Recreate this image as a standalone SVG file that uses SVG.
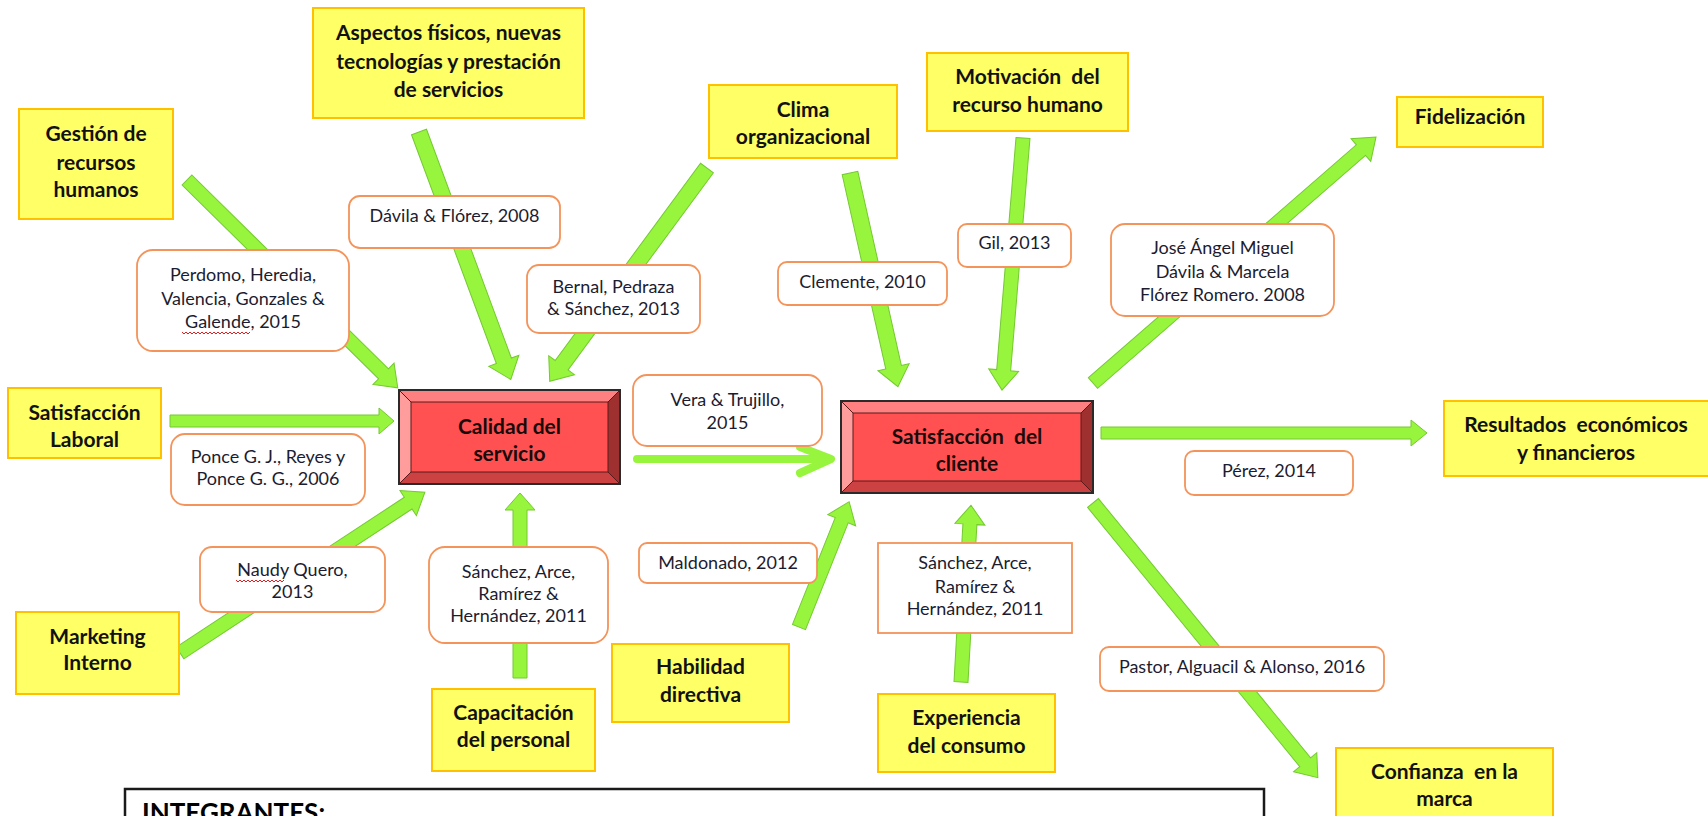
<svg xmlns="http://www.w3.org/2000/svg" width="1708" height="816" viewBox="0 0 1708 816">
<style>
.bg{fill:#ffffff}
.yb{fill:#FFFF66;stroke:#FFC000;stroke-width:2}
.yt{font-family:Lato,"Liberation Sans",sans-serif;font-weight:bold;font-size:21px;fill:#111;text-anchor:middle}
.lb{fill:#ffffff;stroke:#F4935A;stroke-width:1.8}
.lt{font-family:Lato,"Liberation Sans",sans-serif;font-size:18px;fill:#1c1c30;text-anchor:middle}
.ar{fill:#96F53C;stroke:#74C930;stroke-width:1}
.bt{fill:#FF8080}.bl{fill:#FF9C9C}.br{fill:#9E3030}.bb{fill:#CC4141}.bc{fill:#FF5151;stroke:#5a1a1a;stroke-width:1}
.bo{fill:none;stroke:#2a2a2a;stroke-width:2}
.rt{font-family:Lato,"Liberation Sans",sans-serif;font-weight:bold;font-size:21px;fill:#1a0a0a;text-anchor:middle}
.wv{fill:none;stroke:#E02020;stroke-width:1}
</style>
<rect class="bg" x="0" y="0" width="1708" height="816"/>

<g id="connectors">
  <path class="ar" transform="translate(187,180) rotate(44.6)" d="M0,-7 H276 V-15 L296,0 L276,15 V7 H0 Z"/>
  <path class="ar" transform="translate(419,132) rotate(69.65)" d="M0,-8 H244 V-16 L264,0 L244,16 V8 H0 Z"/>
  <path class="ar" transform="translate(707,168) rotate(126.4)" d="M0,-8 H245 V-16 L265,0 L245,16 V8 H0 Z"/>
  <path class="ar" transform="translate(850,173) rotate(77.36)" d="M0,-8 H199 V-16 L219,0 L199,16 V8 H0 Z"/>
  <path class="ar" transform="translate(1023,138) rotate(94.76)" d="M0,-7 H233 V-15 L253,0 L233,15 V7 H0 Z"/>
  <path class="ar" transform="translate(1093,383) rotate(-41)" d="M0,-7 H355 V-15 L375,0 L355,15 V7 H0 Z"/>
  <path class="ar" transform="translate(170,421)" d="M0,-6 H209 V-13 L224,0 L209,13 V6 H0 Z"/>
  <path class="ar" transform="translate(180,653) rotate(-33.3)" d="M0,-7 H273 V-15 L293,0 L273,15 V7 H0 Z"/>
  <path class="ar" transform="translate(520,678) rotate(-90)" d="M0,-7 H168 V-15 L185,0 L168,15 V7 H0 Z"/>
  <path class="ar" transform="translate(799,627) rotate(-68.2)" d="M0,-7 H115 V-15 L135,0 L115,15 V7 H0 Z"/>
  <path class="ar" transform="translate(961,682) rotate(-86.77)" d="M0,-7 H158 V-15 L177,0 L158,15 V7 H0 Z"/>
  <path class="ar" transform="translate(1101,433)" d="M0,-6 H310 V-13 L326,0 L310,13 V6 H0 Z"/>
  <path class="ar" transform="translate(1093,503) rotate(50.7)" d="M0,-7 H335 V-15 L355,0 L335,15 V7 H0 Z"/>
  <path d="M637,459 H829 M800,447 L831,459 L800,473" fill="none" stroke="#96F53C" stroke-width="8" stroke-linecap="round" stroke-linejoin="round"/>
</g>

<g id="node-gestion">
  <rect class="yb" x="19" y="109" width="154" height="110"/>
  <text class="yt" x="96" y="141">Gestión de</text>
  <text class="yt" x="96" y="170">recursos</text>
  <text class="yt" x="96" y="197">humanos</text>
</g>
<g id="node-aspectos">
  <rect class="yb" x="313" y="8" width="271" height="110"/>
  <text class="yt" x="448.5" y="40">Aspectos físicos, nuevas</text>
  <text class="yt" x="448.5" y="69">tecnologías y prestación</text>
  <text class="yt" x="448.5" y="97">de servicios</text>
</g>
<g id="node-clima">
  <rect class="yb" x="709" y="85" width="188" height="73"/>
  <text class="yt" x="803" y="117">Clima</text>
  <text class="yt" x="803" y="144">organizacional</text>
</g>
<g id="node-motivacion">
  <rect class="yb" x="927" y="53" width="201" height="78"/>
  <text class="yt" x="1027.5" y="84" xml:space="preserve">Motivación  del</text>
  <text class="yt" x="1027.5" y="112">recurso humano</text>
</g>
<g id="node-fidelizacion">
  <rect class="yb" x="1397" y="97" width="146" height="50"/>
  <text class="yt" x="1470" y="124">Fidelización</text>
</g>
<g id="node-satlaboral">
  <rect class="yb" x="8" y="388" width="153" height="70"/>
  <text class="yt" x="84.5" y="420">Satisfacción</text>
  <text class="yt" x="84.5" y="447">Laboral</text>
</g>
<g id="node-marketing">
  <rect class="yb" x="16" y="612" width="163" height="82"/>
  <text class="yt" x="97.5" y="644">Marketing</text>
  <text class="yt" x="97.5" y="670">Interno</text>
</g>
<g id="node-capacitacion">
  <rect class="yb" x="432" y="689" width="163" height="82"/>
  <text class="yt" x="513.5" y="720">Capacitación</text>
  <text class="yt" x="513.5" y="747">del personal</text>
</g>
<g id="node-habilidad">
  <rect class="yb" x="612" y="644" width="177" height="78"/>
  <text class="yt" x="700.5" y="674">Habilidad</text>
  <text class="yt" x="700.5" y="702">directiva</text>
</g>
<g id="node-experiencia">
  <rect class="yb" x="878" y="694" width="177" height="78"/>
  <text class="yt" x="966.5" y="725">Experiencia</text>
  <text class="yt" x="966.5" y="753">del consumo</text>
</g>
<g id="node-resultados">
  <rect class="yb" x="1444" y="401" width="270" height="75"/>
  <text class="yt" x="1576" y="432" xml:space="preserve">Resultados  económicos</text>
  <text class="yt" x="1576" y="460">y financieros</text>
</g>
<g id="node-confianza">
  <rect class="yb" x="1336" y="748" width="217" height="80"/>
  <text class="yt" x="1444.5" y="779" xml:space="preserve">Confianza  en la</text>
  <text class="yt" x="1444.5" y="806">marca</text>
</g>

<g id="node-calidad">
  <polygon class="bt" points="399,390 620,390 608,402 411,402"/>
  <polygon class="bl" points="399,390 411,402 411,472 399,484"/>
  <polygon class="br" points="620,390 620,484 608,472 608,402"/>
  <polygon class="bb" points="399,484 620,484 608,472 411,472"/>
  <rect class="bc" x="411" y="402" width="197" height="70"/>
  <path d="M399,390 L411,402 M620,390 L608,402 M399,484 L411,472 M620,484 L608,472" stroke="#5a1a1a" stroke-width="1"/>
  <rect class="bo" x="399" y="390" width="221" height="94"/>
  <text class="rt" x="509.5" y="434">Calidad del</text>
  <text class="rt" x="509.5" y="461">servicio</text>
</g>
<g id="node-satcliente">
  <polygon class="bt" points="841,401 1093,401 1081,413 853,413"/>
  <polygon class="bl" points="841,401 853,413 853,481 841,493"/>
  <polygon class="br" points="1093,401 1093,493 1081,481 1081,413"/>
  <polygon class="bb" points="841,493 1093,493 1081,481 853,481"/>
  <rect class="bc" x="853" y="413" width="228" height="68"/>
  <path d="M841,401 L853,413 M1093,401 L1081,413 M841,493 L853,481 M1093,493 L1081,481" stroke="#5a1a1a" stroke-width="1"/>
  <rect class="bo" x="841" y="401" width="252" height="92"/>
  <text class="rt" x="967" y="444" xml:space="preserve">Satisfacción  del</text>
  <text class="rt" x="967" y="471">cliente</text>
</g>

<g id="label-davila">
  <rect class="lb" x="349" y="196" width="211" height="52" rx="11"/>
  <text class="lt" x="454.5" y="222">Dávila &amp; Flórez, 2008</text>
</g>
<g id="label-perdomo">
  <rect class="lb" x="137" y="250" width="212" height="101" rx="16"/>
  <text class="lt" x="243" y="281">Perdomo, Heredia,</text>
  <text class="lt" x="243" y="305">Valencia, Gonzales &amp;</text>
  <text class="lt" x="243" y="328">Galende, 2015</text>
  <path class="wv" d="M182,332 l2,2 l2,-2 l2,2 l2,-2 l2,2 l2,-2 l2,2 l2,-2 l2,2 l2,-2 l2,2 l2,-2 l2,2 l2,-2 l2,2 l2,-2 l2,2 l2,-2 l2,2 l2,-2 l2,2 l2,-2 l2,2 l2,-2 l2,2 l2,-2 l2,2 l2,-2 l2,2 l2,-2 l2,2 l2,-2 l2,2 l2,-2"/>
</g>
<g id="label-bernal">
  <rect class="lb" x="527" y="265" width="173" height="68" rx="12"/>
  <text class="lt" x="613.5" y="293">Bernal, Pedraza</text>
  <text class="lt" x="613.5" y="315">&amp; Sánchez, 2013</text>
</g>
<g id="label-clemente">
  <rect class="lb" x="778" y="262" width="169" height="43" rx="9"/>
  <text class="lt" x="862.5" y="288">Clemente, 2010</text>
</g>
<g id="label-gil">
  <rect class="lb" x="958" y="224" width="113" height="43" rx="9"/>
  <text class="lt" x="1014.5" y="249">Gil, 2013</text>
</g>
<g id="label-jose">
  <rect class="lb" x="1111" y="224" width="223" height="92" rx="14"/>
  <text class="lt" x="1222.5" y="254">José Ángel Miguel</text>
  <text class="lt" x="1222.5" y="278">Dávila &amp; Marcela</text>
  <text class="lt" x="1222.5" y="301">Flórez Romero. 2008</text>
</g>
<g id="label-vera">
  <rect class="lb" x="633" y="375" width="189" height="71" rx="14"/>
  <text class="lt" x="727.5" y="406">Vera &amp; Trujillo,</text>
  <text class="lt" x="727.5" y="429">2015</text>
</g>
<g id="label-ponce">
  <rect class="lb" x="171" y="434" width="194" height="71" rx="14"/>
  <text class="lt" x="268" y="463">Ponce G. J., Reyes y</text>
  <text class="lt" x="268" y="485">Ponce G. G., 2006</text>
</g>
<g id="label-naudy">
  <rect class="lb" x="200" y="547" width="185" height="65" rx="12"/>
  <text class="lt" x="292.5" y="576">Naudy Quero,</text>
  <text class="lt" x="292.5" y="598">2013</text>
  <path class="wv" d="M236,580 l2,2 l2,-2 l2,2 l2,-2 l2,2 l2,-2 l2,2 l2,-2 l2,2 l2,-2 l2,2 l2,-2 l2,2 l2,-2 l2,2 l2,-2 l2,2 l2,-2 l2,2 l2,-2 l2,2 l2,-2 l2,2 l2,-2"/>
</g>
<g id="label-sanchez1">
  <rect class="lb" x="429" y="547" width="179" height="96" rx="16"/>
  <text class="lt" x="518.5" y="578">Sánchez, Arce,</text>
  <text class="lt" x="518.5" y="600">Ramírez &amp;</text>
  <text class="lt" x="518.5" y="622">Hernández, 2011</text>
</g>
<g id="label-maldonado">
  <rect class="lb" x="639" y="543" width="178" height="40" rx="8"/>
  <text class="lt" x="728" y="569">Maldonado, 2012</text>
</g>
<g id="label-sanchez2">
  <rect class="lb" x="878" y="543" width="194" height="90"/>
  <text class="lt" x="975" y="569">Sánchez, Arce,</text>
  <text class="lt" x="975" y="593">Ramírez &amp;</text>
  <text class="lt" x="975" y="615">Hernández, 2011</text>
</g>
<g id="label-perez">
  <rect class="lb" x="1185" y="451" width="168" height="44" rx="9"/>
  <text class="lt" x="1269" y="477">Pérez, 2014</text>
</g>
<g id="label-pastor">
  <rect class="lb" x="1100" y="647" width="284" height="44" rx="9"/>
  <text class="lt" x="1242" y="673">Pastor, Alguacil &amp; Alonso, 2016</text>
</g>

<g id="integrantes">
  <rect x="125" y="789" width="1139" height="60" fill="#ffffff" stroke="#1a1a1a" stroke-width="2.5"/>
  <text x="142" y="822" font-family="Lato,'Liberation Sans',sans-serif" font-weight="bold" font-size="26" fill="#000">INTEGRANTES:</text>
</g>
</svg>
